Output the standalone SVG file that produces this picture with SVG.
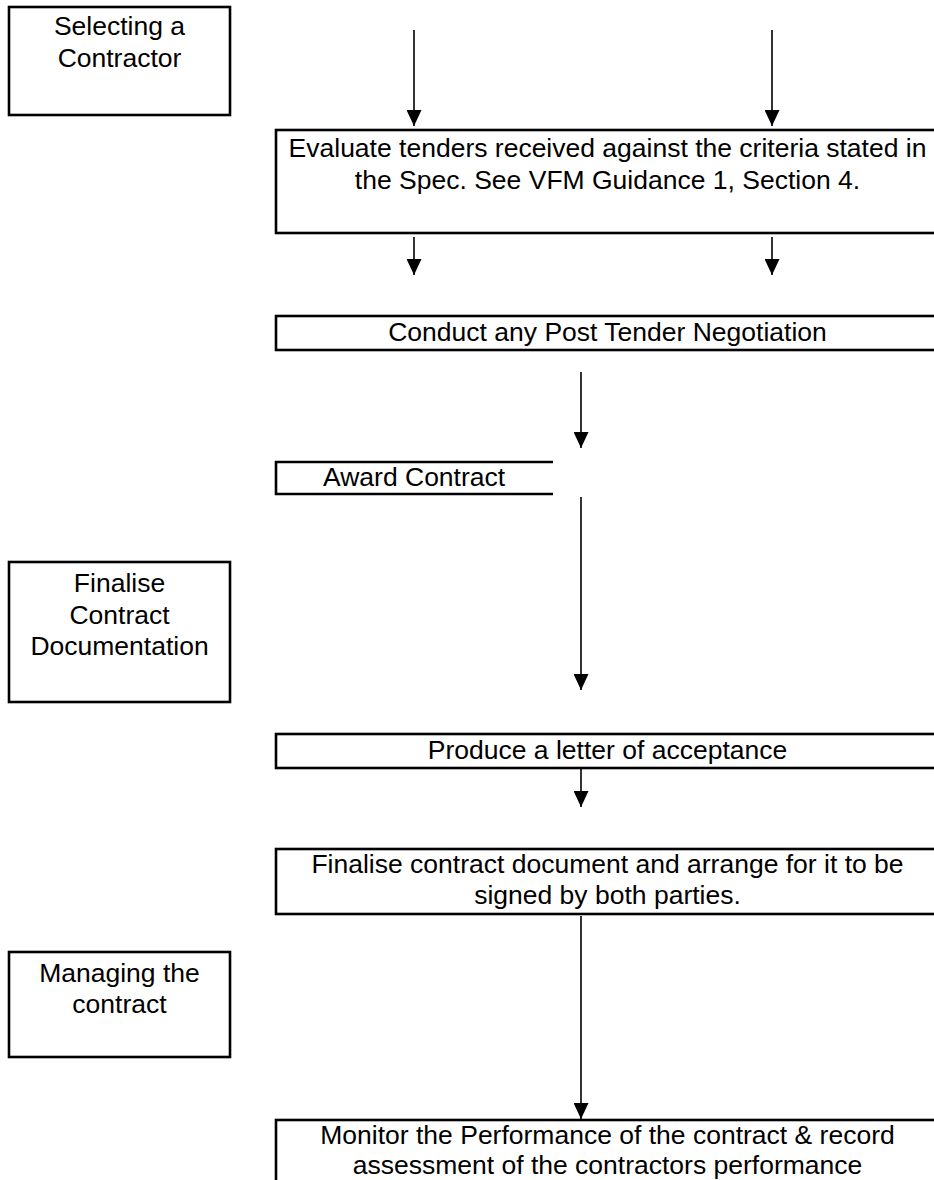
<svg xmlns="http://www.w3.org/2000/svg" width="934" height="1180" viewBox="0 0 934 1180">
<style>
.box{fill:#fff;stroke:#000;stroke-width:2.6}
.t{font-family:"Liberation Sans",Arial,sans-serif;font-size:26.5px;fill:#000;text-anchor:middle}
.ts{font-family:"Liberation Sans",Arial,sans-serif;font-size:26.5px;fill:#000}
.c{stroke:#000;stroke-width:1.6;fill:none;marker-end:url(#ah)}
</style>
<defs>
<marker id="ah" viewBox="0 0 16 15" refX="16" refY="7.5" markerWidth="16" markerHeight="15" markerUnits="userSpaceOnUse" orient="auto">
<path d="M0,0 L16,7.5 L0,15 z" fill="#000"/>
</marker>
</defs>
<rect width="934" height="1180" fill="#fff"/>
<g id="selecting">
<rect class="box" x="9" y="7" width="221" height="108"/>
<text class="t" x="119.5" y="35">Selecting a</text>
<text class="t" x="119.5" y="67">Contractor</text>
</g>
<g id="evaluate">
<rect class="box" x="276" y="130" width="664" height="103"/>
<text class="t" x="607.5" y="157">Evaluate tenders received against the criteria stated in</text>
<text class="t" x="607.5" y="188.5">the Spec. See VFM Guidance 1, Section 4.</text>
</g>
<g id="conduct">
<rect class="box" x="276" y="316" width="664" height="34"/>
<text class="t" x="607.5" y="341">Conduct any Post Tender Negotiation</text>
</g>
<g id="award">
<path class="box" d="M553,462 H276 V494 H553" fill="#fff"/>
<text class="ts" x="323" y="486">Award Contract</text>
</g>
<g id="finalise-doc">
<rect class="box" x="9" y="562" width="221" height="140"/>
<text class="t" x="119.5" y="592">Finalise</text>
<text class="t" x="119.5" y="623.5">Contract</text>
<text class="t" x="119.5" y="655">Documentation</text>
</g>
<g id="produce">
<rect class="box" x="276" y="734" width="664" height="34"/>
<text class="t" x="607.5" y="759">Produce a letter of acceptance</text>
</g>
<g id="finalise-sign">
<rect class="box" x="276" y="849" width="664" height="65"/>
<text class="t" x="607.5" y="873">Finalise contract document and arrange for it to be</text>
<text class="t" x="607.5" y="903.5">signed by both parties.</text>
</g>
<g id="managing">
<rect class="box" x="9" y="952" width="221" height="105"/>
<text class="t" x="119.5" y="982">Managing the</text>
<text class="t" x="119.5" y="1013">contract</text>
</g>
<g id="monitor">
<rect class="box" x="276" y="1120" width="664" height="80"/>
<text class="t" x="607.5" y="1144">Monitor the Performance of the contract &amp; record</text>
<text class="t" x="607.5" y="1174">assessment of the contractors performance</text>
</g>
<g id="connectors">
<line class="c" x1="414" y1="30" x2="414" y2="126"/>
<line class="c" x1="772" y1="30" x2="772" y2="126"/>
<line class="c" x1="414" y1="237" x2="414" y2="275"/>
<line class="c" x1="772" y1="237" x2="772" y2="275"/>
<line class="c" x1="581" y1="372" x2="581" y2="448"/>
<line class="c" x1="581" y1="497" x2="581" y2="690"/>
<line class="c" x1="581" y1="769" x2="581" y2="807"/>
<line class="c" x1="581" y1="916" x2="581" y2="1119"/>
</g>
</svg>
